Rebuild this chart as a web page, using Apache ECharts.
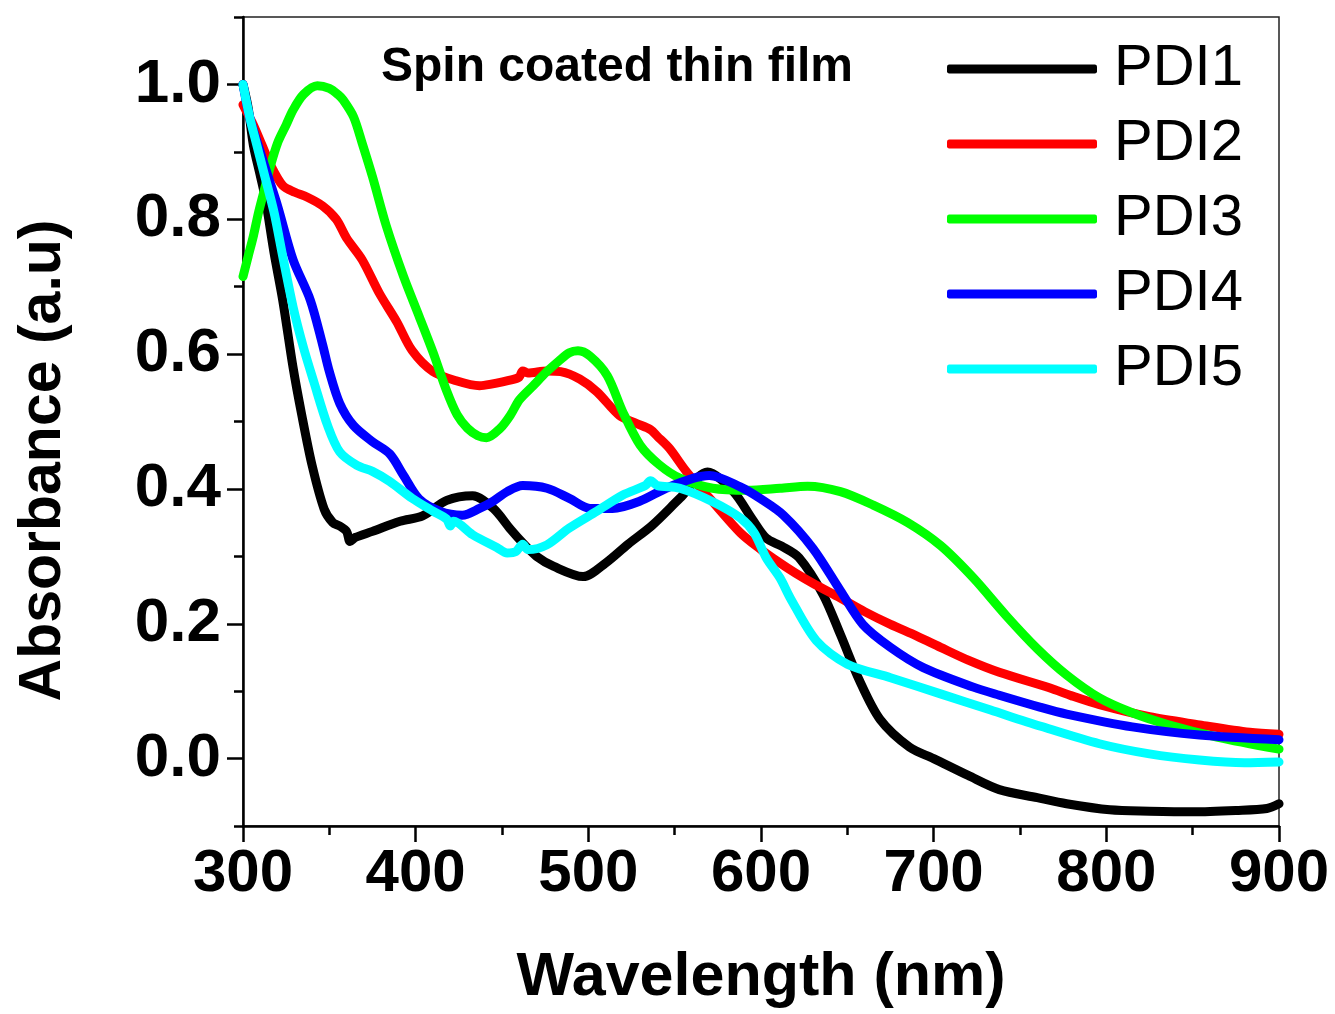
<!DOCTYPE html>
<html>
<head>
<meta charset="utf-8">
<script src="https://cdn.jsdelivr.net/npm/echarts@6/dist/echarts.min.js"></script>
<style>html,body{margin:0;padding:0;background:#fff;}#c{width:1335px;height:1014px;}</style>
</head>
<body>
<div id="c"></div>
<script>
const seriesNames = ['PDI1','PDI2','PDI3','PDI4','PDI5'];
const seriesColors = ['#000000','#ff0000','#00ff00','#0000ff','#00ffff'];
const xTicks = [300,400,500,600,700,800,900];
const yTicks = [0.0,0.2,0.4,0.6,0.8,1.0];
const yMinorTicks = [-0.1,0.1,0.3,0.5,0.7,0.9,1.1];

const wl1 = [300,303,306,310,313,318,323,329,334,340,347,352,356,360,362,365,375,391,404,418,433,445,455,462,470,480,497,510,523,537,553,569,584,595,603,612,622,636,646,657,669,686,700,720,738,760,777,802,825,850,875,893,900];
const abs1 = [1.0,0.965,0.91,0.865,0.83,0.75,0.68,0.58,0.51,0.435,0.37,0.35,0.345,0.337,0.322,0.328,0.337,0.352,0.36,0.383,0.39,0.371,0.34,0.32,0.3,0.285,0.27,0.29,0.318,0.346,0.386,0.425,0.396,0.355,0.327,0.315,0.298,0.243,0.184,0.116,0.058,0.017,0.0,-0.025,-0.046,-0.058,-0.067,-0.076,-0.078,-0.079,-0.077,-0.074,-0.067];

const wl2 = [300,303,306,311,316,323,330,337,346,354,360,369,379,389,398,410,424,437,443,456,460,462,465,476,484,495,505,518,528,536,540,547,557,572,588,600,611,620,630,646,660,675,690,704,720,738,767,780,796,825,854,883,900];
const abs2 = [0.97,0.955,0.94,0.91,0.88,0.85,0.84,0.833,0.82,0.8,0.772,0.74,0.69,0.648,0.605,0.574,0.56,0.553,0.555,0.562,0.566,0.575,0.572,0.575,0.574,0.563,0.544,0.509,0.497,0.488,0.478,0.46,0.425,0.381,0.335,0.31,0.29,0.275,0.26,0.238,0.218,0.199,0.182,0.165,0.146,0.128,0.105,0.093,0.08,0.062,0.05,0.039,0.036];

const wl3 = [300,303,306,309,312,316,320,325,329,335,343,350,355,358,364,369,375,383,393,402,410,418,424,430,436,441,449,455,460,468,476,483,489,494,501,511,520,530,541,553,572,592,611,627,646,665,685,704,723,742,760,777,796,815,835,864,900];
const abs3 = [0.715,0.745,0.775,0.81,0.84,0.88,0.913,0.94,0.962,0.985,0.998,0.994,0.985,0.977,0.952,0.913,0.863,0.79,0.715,0.656,0.603,0.545,0.51,0.49,0.479,0.476,0.49,0.51,0.532,0.553,0.574,0.59,0.602,0.605,0.597,0.568,0.514,0.465,0.436,0.416,0.401,0.398,0.401,0.404,0.396,0.376,0.35,0.316,0.268,0.212,0.163,0.124,0.09,0.068,0.051,0.032,0.014];

const wl4 = [300,304,310,315,320,329,339,346,350,356,364,375,385,393,402,414,427,437,445,453,462,476,489,501,514,530,545,561,570,588,600,613,630,646,659,675,694,723,738,762,777,815,854,900];
const abs4 = [1.0,0.95,0.9,0.86,0.82,0.74,0.68,0.615,0.574,0.527,0.494,0.47,0.452,0.42,0.385,0.367,0.361,0.371,0.382,0.396,0.405,0.401,0.386,0.371,0.371,0.382,0.401,0.416,0.42,0.403,0.385,0.361,0.312,0.249,0.199,0.165,0.135,0.106,0.094,0.076,0.066,0.047,0.035,0.028];

const wl5 = [300,304,308,312,318,323,329,335,341,349,356,366,375,385,398,410,418,420,422,433,447,453,458,462,465,476,489,505,520,533,536,540,553,572,588,596,603,611,617,632,650,675,704,733,762,796,825,854,880,900];
const abs5 = [1.0,0.95,0.91,0.87,0.81,0.745,0.67,0.61,0.559,0.494,0.455,0.435,0.426,0.411,0.386,0.367,0.355,0.345,0.352,0.332,0.313,0.305,0.307,0.318,0.31,0.317,0.342,0.367,0.391,0.405,0.412,0.405,0.401,0.381,0.357,0.335,0.298,0.268,0.238,0.175,0.140,0.12,0.096,0.072,0.048,0.022,0.007,-0.002,-0.006,-0.005];

const wls = [wl1, wl2, wl3, wl4, wl5];
const absVals = [abs1, abs2, abs3, abs4, abs5];

const FONT = '"Liberation Sans", Arial, Helvetica, sans-serif';

function pairs(x, y) { return x.map((v, i) => [v, y[i]]); }

const chart = echarts.init(document.getElementById('c'), null, {renderer: 'canvas'});
const option = {
  animation: false,
  backgroundColor: '#ffffff',
  title: {
    text: 'Spin coated thin film',
    left: 376,
    top: 39,
    textStyle: {fontFamily: FONT, fontSize: 48, fontWeight: 'bold', color: '#000'}
  },
  legend: {
    orient: 'vertical',
    left: 942,
    top: 34,
    itemWidth: 150,
    itemHeight: 9,
    itemGap: 15,
    icon: 'roundRect',
    data: seriesNames,
    textStyle: {fontFamily: FONT, fontSize: 58, lineHeight: 60, color: '#000', padding: [0, 0, 0, 12]}
  },
  grid: {
    left: 243, right: 56, top: 17, bottom: 185,
    show: true, borderColor: '#222', borderWidth: 1.5, backgroundColor: 'transparent'
  },
  xAxis: {
    type: 'value', min: 300, max: 900, interval: 100,
    axisLine: {show: true, onZero: false, lineStyle: {color: '#000', width: 2.5}},
    axisTick: {show: true, length: 16, lineStyle: {color: '#000', width: 2.5}},
    minorTick: {show: true, splitNumber: 2, length: 9, lineStyle: {color: '#000', width: 2.5}},
    splitLine: {show: false},
    axisLabel: {fontFamily: FONT, fontSize: 60, fontWeight: 'bold', color: '#000', margin: 18,
      customValues: xTicks},
    name: 'Wavelength (nm)', nameLocation: 'middle', nameGap: 122,
    nameTextStyle: {fontFamily: FONT, fontSize: 61, fontWeight: 'bold', color: '#000'}
  },
  yAxis: [{
    type: 'value', min: -0.1, max: 1.1, position: 'left',
    axisLine: {show: true, onZero: false, lineStyle: {color: '#000', width: 2.5}},
    axisTick: {show: true, length: 9, customValues: yMinorTicks, lineStyle: {color: '#000', width: 2.5}},
    axisLabel: {show: false},
    splitLine: {show: false}
  }, {
    type: 'value', min: -0.1, max: 1.1, position: 'left', offset: 0,
    axisLine: {show: false},
    axisTick: {show: true, length: 16, customValues: yTicks, lineStyle: {color: '#000', width: 2.5}},
    axisLabel: {fontFamily: FONT, fontSize: 62, fontWeight: 'bold', color: '#000', margin: 22,
      customValues: yTicks, formatter: v => Number(v).toFixed(1)},
    splitLine: {show: false},
    name: 'Absorbance (a.u)', nameLocation: 'middle', nameGap: 170,
    nameTextStyle: {fontFamily: FONT, fontSize: 59, fontWeight: 'bold', color: '#000', padding: [0, 78, 0, 0]}
  }],
  series: seriesNames.map((n, i) => ({
    name: n,
    type: 'line',
    yAxisIndex: 0,
    data: pairs(wls[i], absVals[i]),
    showSymbol: false,
    smooth: 0.3,
    color: seriesColors[i],
    lineStyle: {width: 9, color: seriesColors[i], cap: 'round', join: 'round'},
    itemStyle: {color: seriesColors[i]},
    z: 2 + i
  }))
};
chart.setOption(option);
</script>
</body>
</html>
